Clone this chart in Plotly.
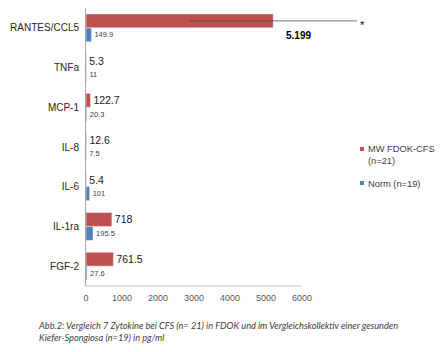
import plotly.graph_objects as go

categories = ["RANTES/CCL5", "TNFa", "MCP-1", "IL-8", "IL-6", "IL-1ra", "FGF-2"]
mw_fdok = [5199, 5.3, 122.7, 12.6, 5.4, 718, 761.5]
mw_labels = ["", "5.3", "122.7", "12.6", "5.4", "718", "761.5"]
norm = [149.9, 11, 20.3, 7.5, 101, 195.5, 27.6]
norm_labels = ["149.9", "11", "20.3", "7.5", "101", "195.5", "27.6"]
mw_err = [2330, 0, 0, 0, 0, 0, 0]
x_ticks = [0, 1000, 2000, 3000, 4000, 5000, 6000]
legend_names = ["MW FDOK-CFS<br>(n=21)", "Norm (n=19)"]
caption = ("Abb.2: Vergleich 7 Zytokine bei CFS (n= 21) in FDOK und im Vergleichskollektiv einer gesunden"
           "<br>Kiefer-Spongiosa (n=19) in pg/ml")

RED = "#C0504D"
BLUE = "#4F81BD"
FONT = "Liberation Sans, Arial, sans-serif"

fig = go.Figure()
fig.add_trace(go.Bar(
    y=categories, x=mw_fdok, orientation="h", name="MW FDOK-CFS",
    marker_color=RED, text=mw_labels, texttemplate="%{text}", textposition="outside",
    textfont=dict(size=10.5, color="#1a1a1a", family=FONT), cliponaxis=False,
    error_x=dict(type="data", array=mw_err, symmetric=True, thickness=1, width=0,
                 color="rgba(70,70,70,0.75)"),
    showlegend=False,
))
fig.add_trace(go.Bar(
    y=categories, x=norm, orientation="h", name="Norm",
    marker_color=BLUE, text=norm_labels, texttemplate="%{text}", textposition="outside",
    textfont=dict(size=7.5, color="#404040", family=FONT), cliponaxis=False,
    showlegend=False,
))

fig.update_layout(
    width=440, height=352,
    margin=dict(l=86, r=66, t=8, b=66),
    paper_bgcolor="white", plot_bgcolor="white",
    barmode="group", bargap=0.3, bargroupgap=0,
    font=dict(family=FONT, color="#262626"),
    xaxis=dict(range=[0, 8000], tickvals=x_ticks, ticktext=[str(v) for v in x_ticks],
               showgrid=False, zeroline=False, showline=False, ticks="",
               tickfont=dict(size=9, color="#595959"), ticklabelstandoff=5),
    yaxis=dict(type="category", categoryarray=categories, range=[6.5, -0.5],
               showgrid=False, zeroline=False, showline=True, linecolor="#A6A6A6",
               linewidth=1, ticks="", tickfont=dict(size=10, color="#262626"),
               ticklabelstandoff=4),
)

# x axis line only up to 6000
fig.add_shape(type="line", xref="x", yref="paper", x0=0, x1=x_ticks[-1], y0=0, y1=0,
              line=dict(color="#BFBFBF", width=1))

# RANTES label and significance asterisk
fig.add_annotation(x=5900, y=0.18, xref="x", yref="y", text="<b>5.199</b>", showarrow=False,
                   font=dict(size=10, color="#000000", family=FONT))
fig.add_annotation(x=mw_fdok[0] + mw_err[0] + 20, y=-0.175, xref="x", yref="y", text="*",
                   showarrow=False, xanchor="left", yshift=-4,
                   font=dict(size=11, color="#000000", family=FONT))

# manual legend
fig.add_shape(type="rect", xref="paper", yref="paper", x0=1.0 + (360 - 374) / 288,
              x1=1.0 + (364 - 374) / 288, y0=(352 - 66 - 151) / 278, y1=(352 - 66 - 147) / 278,
              line=dict(width=0), fillcolor=RED)
fig.add_shape(type="rect", xref="paper", yref="paper", x0=1.0 + (360 - 374) / 288,
              x1=1.0 + (364 - 374) / 288, y0=(352 - 66 - 185) / 278, y1=(352 - 66 - 181) / 278,
              line=dict(width=0), fillcolor=BLUE)
fig.add_annotation(xref="paper", yref="paper", x=1.0 + (366 - 374) / 288, y=(286 - 142) / 278,
                   text=legend_names[0], showarrow=False, xanchor="left", yanchor="top", align="left",
                   font=dict(size=9.3, color="#404040", family=FONT))
fig.add_annotation(xref="paper", yref="paper", x=1.0 + (366 - 374) / 288, y=(286 - 177) / 278,
                   text=legend_names[1], showarrow=False, xanchor="left", yanchor="top", align="left",
                   font=dict(size=9.3, color="#404040", family=FONT))

# caption
fig.add_annotation(xref="paper", yref="paper", x=(36 - 86) / 288, y=(286 - 318) / 278,
                   text="<i>" + caption + "</i>", showarrow=False, xanchor="left", yanchor="top",
                   align="left", font=dict(size=9.2, color="#404040", family="Lato, sans-serif"))

fig.write_html("out.html")
